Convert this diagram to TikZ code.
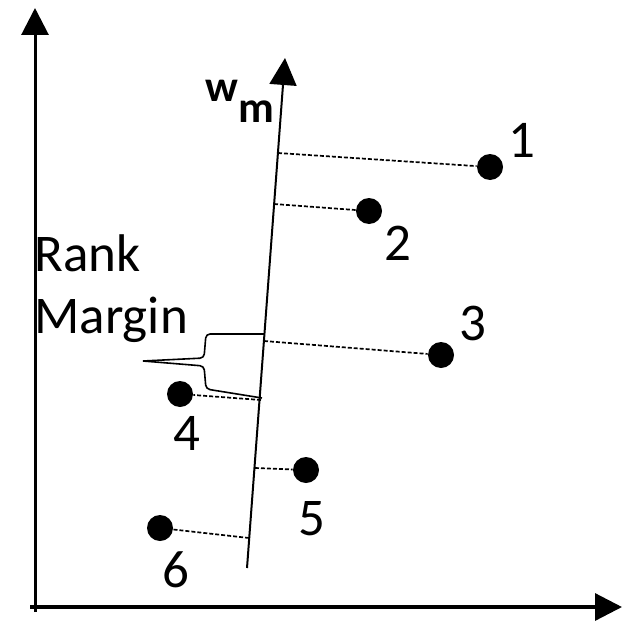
\documentclass[tikz,border=0pt]{standalone}
\usepackage{fontspec}
\setmainfont{Carlito}
\usetikzlibrary{arrows.meta}
\tikzset{
  dot/.style={circle, fill=black, inner sep=0pt, minimum size=13pt},
  num/.style={inner sep=0pt},
  proj/.style={dash pattern=on 2pt off 1pt, line width=0.85pt},
}
\begin{document}
\begin{tikzpicture}[x=0.5pt, y=-0.5pt, font=\fontsize{26.5}{31}\selectfont, line join=round, >={Triangle[length=13.5pt,width=13.5pt]}]
\useasboundingbox (0,0) rectangle (625,631);
% axes
\coordinate (ybot) at (35,612); \coordinate (ytip) at (35,8);
\coordinate (xbeg) at (30,607); \coordinate (xtip) at (622,607);
\draw[->, line width=1.5pt] (ybot) -- (ytip);
\draw[->, line width=1.6pt] (xbeg) -- (xtip);
% projection axis
\coordinate (wbot) at (247,568); \coordinate (wtop) at (285,58);
\draw[->, line width=1pt] (wbot) -- (wtop);
\node[num, font=\fontsize{22}{22}\selectfont\bfseries] (wlab) at (240,101) {w\raisebox{-1ex}{m}};
% points
\node[dot] (d1) at (490,167) {}; \node[num] (n1) at (522,140) {1};
\node[dot] (d2) at (369,211) {}; \node[num] (n2) at (398,243) {2};
\node[dot] (d3) at (441,355) {}; \node[num] (n3) at (473,323) {3};
\node[dot] (d4) at (180,394) {}; \node[num] (n4) at (187,433) {4};
\node[dot] (d5) at (306,470) {}; \node[num] (n5) at (312,519) {5};
\node[dot] (d6) at (160,528) {}; \node[num] (n6) at (176,570) {6};
% feet on the axis
\coordinate (f1) at (278,153); \coordinate (f2) at (274,204);
\coordinate (f3) at (264,341); \coordinate (f4) at (261,400);
\coordinate (f5) at (255,468); \coordinate (f6) at (249,538);
\foreach \i in {1,...,6} \draw[proj] (f\i) -- (d\i);
% rank margin
\coordinate (bt) at (264,334); \coordinate (bb) at (262,398); \coordinate (btip) at (143,361);
\draw[line width=0.8pt, rounded corners=2pt] (bt) -- (206,334) -- (204,358) -- (btip);
\draw[line width=0.8pt, rounded corners=2pt] (bb) -- (206,389) -- (204,366) -- (btip);
\node[num, anchor=north west, align=left] (rm) at (34,234) {Rank\\Margin};
\end{tikzpicture}
\end{document}
